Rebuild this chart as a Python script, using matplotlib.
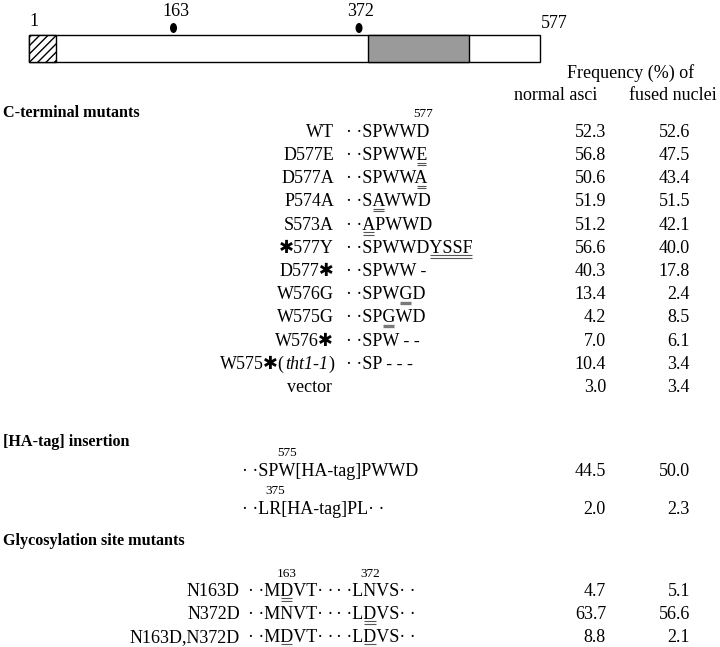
import matplotlib
matplotlib.use('Agg')
import matplotlib.pyplot as plt
from matplotlib.patches import Rectangle, Ellipse

# ---------------- data ----------------
protein_len = 577
glyco_sites = [163, 372]
cterm_labels = ['WT', 'D577E', 'D577A', 'P574A', 'S573A', '✱577Y', 'D577✱',
                'W576G', 'W575G', 'W576✱', 'W575✱(tht1-1)', 'vector']
cterm_seqs = ['SPWWD', 'SPWWE', 'SPWWA', 'SAWWD', 'APWWD', 'SPWWDYSSF', 'SPWW -',
              'SPWGD', 'SPGWD', 'SPW - -', 'SP - - -', '']
cterm_marks = [None, (4, 5, 'double'), (4, 5, 'double'), (1, 2, 'double'), (0, 1, 'double'),
               (5, 9, 'double'), None, (3, 4, 'thick'), (2, 3, 'thick'), None, None, None]
cterm_normal = [52.3, 56.8, 50.6, 51.9, 51.2, 56.6, 40.3, 13.4, 4.2, 7.0, 10.4, 3.0]
cterm_fused = [52.6, 47.5, 43.4, 51.5, 42.1, 40.0, 17.8, 2.4, 8.5, 6.1, 3.4, 3.4]

ha_seqs = ['SPW[HA-tag]PWWD', 'LR[HA-tag]PL· ·']
ha_sup = [('575', 2), ('375', 1)]
ha_normal = [44.5, 2.0]
ha_fused = [50.0, 2.3]

gly_labels = ['N163D', 'N372D', 'N163D,N372D']
gly_seq1 = ['MDVT', 'MNVT', 'MDVT']
gly_seq2 = ['LNVS', 'LDVS', 'LDVS']
gly_mark1 = [True, False, True]
gly_mark2 = [False, True, True]
gly_normal = [4.7, 63.7, 8.8]
gly_fused = [5.1, 56.6, 2.1]

# ---------------- figure ----------------
W, H = 720, 647
fig = plt.figure(figsize=(7.2, 6.47), dpi=100)
ax = fig.add_axes([0, 0, 1, 1])
ax.set_xlim(0, W)
ax.set_ylim(H, 0)
ax.axis('off')
renderer = fig.canvas.get_renderer()

FAM = ['Liberation Serif', 'DejaVu Sans']
FS = 13
SUP = 9.5
base = dict(family=FAM, fontsize=FS, color='black')
ital = dict(family=FAM, fontsize=FS, style='italic', color='black')
bold = dict(family=FAM, fontsize=11.6, weight='bold', color='black')
DOTS = '· ·'


def ink_w(s, style):
    t = ax.text(0, 0, s, **style)
    w = t.get_window_extent(renderer).width
    t.remove()
    return w


def adv(s, style=base):
    """advance width of s (sandwich trick removes bearing / bbox offsets)"""
    if not s:
        return 0.0
    return ink_w('|' + s + '|', style) - ink_w('||', style)


def put(x, yb, s, style=base, ha='left'):
    ax.text(x, yb, s, va='baseline', ha=ha, **style)


def underline(x0, x1, yb, kind):
    if kind == 'double':
        for dy in (2.6, 5.0):
            ax.plot([x0 + 0.8, x1 - 0.8], [yb + dy, yb + dy], color='#555555', lw=0.8,
                    solid_capstyle='butt')
    else:
        ax.plot([x0 + 1, x1 - 1], [yb + 3.8, yb + 3.8], color='#7a7a7a', lw=2.4,
                solid_capstyle='butt')


def label(xr, yb, lbl):
    if '(' in lbl:
        pre, rest = lbl.split('(', 1)
        inner = rest.rstrip(')')
        runs = [(pre + '(', base), (inner, ital), (')', base)]
    else:
        runs = [(lbl, base)]
    total = sum(adv(s, st) for s, st in runs)
    x = xr - total
    for s, st in runs:
        put(x, yb, s, st)
        x += adv(s, st)


def seq_line(xs, yb, seq, marks=(), lead=True):
    """draw '· ·'+seq with seq starting at xs; marks = [(a,b,kind)]"""
    x0 = xs - adv(DOTS) if lead else xs
    put(x0, yb, (DOTS if lead else '') + seq)
    for a, b, kind in marks:
        underline(xs + adv(seq[:a]), xs + adv(seq[:b]), yb, kind)
    return lambda k: xs + (adv(seq[:k]) + adv(seq[:k + 1])) / 2


# ---------------- protein bar ----------------
bar_x0, bar_x1 = 28.7, 540.0
bar_y0, bar_y1 = 35.0, 61.7
sx = lambda r: bar_x0 + (r - 1) / (protein_len - 1) * (bar_x1 - bar_x0)
ax.add_patch(Rectangle((bar_x0, bar_y0), bar_x1 - bar_x0, bar_y1 - bar_y0,
                       facecolor='white', edgecolor='black', lw=1.0))
ax.add_patch(Rectangle((bar_x0, bar_y0), 27.0, bar_y1 - bar_y0,
                       facecolor='white', edgecolor='black', lw=1.0, hatch='////'))
ax.add_patch(Rectangle((368.0, bar_y0), 101.0, bar_y1 - bar_y0,
                       facecolor='#9a9a9a', edgecolor='black', lw=1.0))
for site in glyco_sites:
    ax.add_patch(Ellipse((sx(site) + 1, 28), 7, 10, facecolor='black', edgecolor='none'))
    ax.text(sx(site) + 3, 11, str(site), ha='center', va='center', family=FAM, fontsize=13)
ax.text(34, 21, '1', ha='center', va='center', family=FAM, fontsize=13)
ax.text(554, 23, str(protein_len), ha='center', va='center', family=FAM, fontsize=13)

# ---------------- column headers ----------------
ax.text(631, 73, 'Frequency (%) of', ha='center', va='center', family=FAM, fontsize=13)
ax.text(556, 95, 'normal asci', ha='center', va='center', family=FAM, fontsize=13)
ax.text(673, 95, 'fused nuclei', ha='center', va='center', family=FAM, fontsize=13)

COL1, COL2 = 606, 690
CAP = 5.8  # text centre -> baseline


def numbers(yc, a, b):
    put(COL1, yc + CAP, f'{a:.1f}', ha='right')
    put(COL2, yc + CAP, f'{b:.1f}', ha='right')


# ---------------- C-terminal mutants ----------------
ax.text(3, 113, 'C-terminal mutants', ha='left', va='center', **bold)
LBL_R = 334
SEQ_X = 362
y0, dy = 131, 23.2
for i, lbl in enumerate(cterm_labels):
    yc = y0 + i * dy
    yb = yc + CAP
    label(LBL_R if lbl != 'vector' else LBL_R - 2, yb, lbl)
    seq = cterm_seqs[i]
    if seq:
        mk = cterm_marks[i]
        cx = seq_line(SEQ_X, yb, seq, [mk] if mk else [])
        if i == 0:
            ax.text(cx(len(seq) - 1), yc - 17, str(protein_len), ha='center', va='center',
                    family=FAM, fontsize=SUP)
    numbers(yc, cterm_normal[i], cterm_fused[i])

# ---------------- HA-tag insertion ----------------
ax.text(3, 442, '[HA-tag] insertion', ha='left', va='center', **bold)
ha_y = [470, 508]
HA_X = 258
for i, seq in enumerate(ha_seqs):
    yc = ha_y[i]
    yb = yc + CAP
    cx = seq_line(HA_X, yb, seq)
    sup, pos = ha_sup[i]
    ax.text(cx(pos), yc - 17, sup, ha='center', va='center', family=FAM, fontsize=SUP)
    numbers(yc, ha_normal[i], ha_fused[i])

# ---------------- Glycosylation site mutants ----------------
ax.text(3, 541, 'Glycosylation site mutants', ha='left', va='center', **bold)
gly_y = [590, 613, 636]
GL_R = 240
GS1 = 264
GS2 = GS1 + adv('MDVT' + DOTS) + 3 + adv(DOTS)
for i, lbl in enumerate(gly_labels):
    yc = gly_y[i]
    yb = yc + CAP
    put(GL_R, yb, lbl, ha='right')
    for seq, mk, xs, site in ((gly_seq1[i], gly_mark1[i], GS1, glyco_sites[0]),
                              (gly_seq2[i], gly_mark2[i], GS2, glyco_sites[1])):
        cx = seq_line(xs, yb, seq + DOTS, [(1, 2, 'double')] if mk else [])
        if i == 0:
            ax.text(cx(1), yc - 16, str(site), ha='center', va='center', family=FAM,
                    fontsize=SUP)
    numbers(yc, gly_normal[i], gly_fused[i])

fig.savefig('out.png', dpi=100)
